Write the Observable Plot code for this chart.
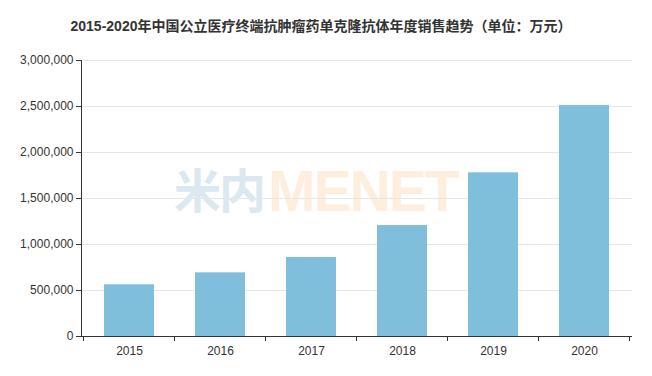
<!DOCTYPE html>
<html>
<head>
<meta charset="utf-8">
<script src="https://cdn.jsdelivr.net/npm/d3@7"></script>
<script src="https://cdn.jsdelivr.net/npm/@observablehq/plot@0.6"></script>
<style>
  body { margin: 0; background: #fff; font-family: "Liberation Sans", Arial, "Noto Sans CJK SC", sans-serif; }
  #wrap { position: relative; width: 652px; height: 376px; overflow: hidden; }
  #title { position: absolute; left: 0; top: 15px; width: 642px; text-align: center; font-size: 14px; font-weight: bold; color: #333; font-family: "Liberation Sans", Arial, "Noto Sans CJK SC", sans-serif; line-height: 22px; }
  .wm { position: absolute; font-weight: bold; white-space: nowrap; }
  #wm1 { left: 174px; top: 164px; font-size: 47px; line-height: 47px; color: #dce8ef; font-family: "Noto Sans CJK SC", sans-serif; letter-spacing: -2px; }
  #wm2 { left: 268px; top: 163px; font-size: 57px; line-height: 57px; color: #fdeedd; font-family: "Liberation Sans", Arial, sans-serif; letter-spacing: -2px; }
  #chart { position: absolute; left: 0; top: 0; }
</style>
</head>
<body>
<div id="wrap">
  <div class="wm" id="wm1">米内</div>
  <div class="wm" id="wm2">MENET</div>
  <div id="chart"></div>
  <div id="title">2015-2020年中国公立医疗终端抗肿瘤药单克隆抗体年度销售趋势（单位：万元）</div>
</div>
<script>
const years = ["2015", "2016", "2017", "2018", "2019", "2020"];
const sales = [562000, 692000, 859000, 1206000, 1779000, 2510000];
const yTicks = [0, 500000, 1000000, 1500000, 2000000, 2500000, 3000000];

const data = years.map((y, i) => ({year: y, value: sales[i]}));

function axisLines(index, scales, values, dimensions) {
  const x = scales.x;
  const step = x.step();
  const bw = x.bandwidth();
  const y0 = dimensions.height - dimensions.marginBottom;
  const yTop = dimensions.marginTop;
  const xl = dimensions.marginLeft;
  const g = d3.create("svg:g").attr("stroke", "#333").attr("stroke-width", 1);
  g.append("line").attr("x1", xl + 0.5).attr("x2", xl + 0.5).attr("y1", yTop).attr("y2", y0);
  const edges = years.map(d => x(d) - (step - bw) / 2);
  edges.push(x(years[years.length - 1]) + bw + (step - bw) / 2);
  for (const e of edges) {
    g.append("line")
      .attr("x1", e).attr("x2", e)
      .attr("y1", y0).attr("y2", y0 + 5);
  }
  return g.node();
}

const fmt = d3.format(",");

const chart = Plot.plot({
  width: 652,
  height: 376,
  marginTop: 60,
  marginBottom: 40,
  marginLeft: 81,
  marginRight: 20,
  style: {fontFamily: "Liberation Sans, Arial, sans-serif", fontSize: "12px", background: "transparent", color: "#333"},
  x: {domain: years, paddingInner: 0.45, paddingOuter: 0.225, label: null},
  y: {domain: [0, 3000000], label: null},
  marks: [
    Plot.gridY(yTicks, {stroke: "#e6e6e6", strokeOpacity: 1}),
    Plot.barY(data, {x: "year", y: "value", fill: "#7fbfdc"}),
    Plot.axisY({ticks: yTicks, tickFormat: fmt, tickSize: 5, tickPadding: 3, stroke: "#333", fontSize: 12, fill: "#333"}),
    Plot.axisX({tickSize: 0, tickPadding: 10, fontSize: 12, fill: "#333"}),
    Plot.ruleY([0], {stroke: "#333"}),
    axisLines
  ]
});
document.getElementById("chart").appendChild(chart);
</script>
</body>
</html>
